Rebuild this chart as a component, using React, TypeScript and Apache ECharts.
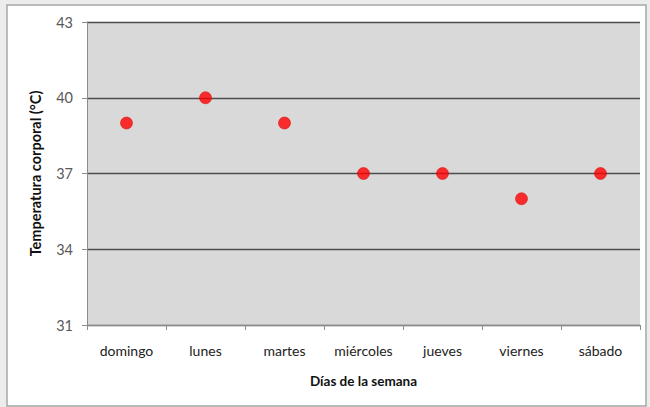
import React, { useEffect, useRef } from "react";
import * as echarts from "echarts";

const days = ["domingo", "lunes", "martes", "miércoles", "jueves", "viernes", "sábado"];
const temperatures = [39, 40, 39, 37, 37, 36, 37];
const Y_MIN = 31;
const Y_MAX = 43;
const Y_STEP = 3;

export default function App() {
  const ref = useRef<HTMLDivElement>(null);
  useEffect(() => {
    document.body.style.margin = "0";
    const chart = echarts.init(ref.current!, null, { renderer: "svg" });
    const font = "Lato, 'Open Sans', sans-serif";
    chart.setOption({
      animation: false,
      backgroundColor: "#ececec",
      graphic: [
        {
          type: "rect",
          shape: { x: 7, y: 5, width: 639, height: 401 },
          style: { fill: "#ffffff", stroke: "#a6a6a6", lineWidth: 1.5 },
          z: -10,
          silent: true,
        },
      ],
      grid: { left: 87, right: 10, top: 22, bottom: 82, show: true, backgroundColor: "#d9d9d9", borderWidth: 0 },
      xAxis: {
        type: "category",
        data: days,
        boundaryGap: true,
        name: "Días de la semana",
        nameLocation: "middle",
        nameGap: 49,
        nameTextStyle: { fontFamily: font, fontWeight: "bold", fontSize: 13.5, color: "#111" },
        axisLine: { lineStyle: { color: "#8c8c8c", width: 1 } },
        axisTick: { show: true, alignWithLabel: false, length: 5, lineStyle: { color: "#8c8c8c" } },
        axisLabel: { fontFamily: font, fontSize: 14, color: "#222", margin: 18 },
        splitLine: { show: false },
      },
      yAxis: {
        type: "value",
        min: 0,
        max: Y_MAX - Y_MIN,
        interval: Y_STEP,
        name: "Temperatura corporal (°C)",
        nameLocation: "middle",
        nameGap: 44,
        nameTextStyle: { fontFamily: font, fontWeight: "bold", fontSize: 14.5, color: "#111" },
        axisLine: { show: true, lineStyle: { color: "#8c8c8c", width: 1 } },
        axisTick: { show: true, length: 5, lineStyle: { color: "#8c8c8c" } },
        axisLabel: {
          fontFamily: font,
          fontSize: 14.5,
          color: "#595959",
          margin: 14,
          formatter: (v: number) => String(v + Y_MIN),
        },
        splitLine: { show: true, lineStyle: { color: "#4d4d4d", width: 1.3 } },
      },
      series: [
        {
          type: "scatter",
          data: temperatures.map((t) => t - Y_MIN),
          symbol: "circle",
          symbolSize: 12,
          itemStyle: { color: "#ff0000", borderColor: "#d40000", borderWidth: 0.6 },
        },
      ],
    });
    return () => chart.dispose();
  }, []);
  return <div ref={ref} style={{ width: 650, height: 407 }} />;
}
